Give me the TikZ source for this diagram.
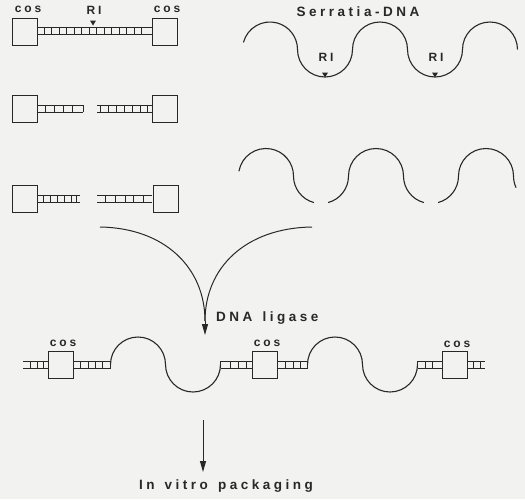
\documentclass[tikz,border=0pt]{standalone}
\usepackage{fontspec}
\setmainfont{Liberation Sans}
\newfontfamily\labfont[LetterSpace=24]{Liberation Sans Bold}
\newfontfamily\biglabfont[LetterSpace=26,WordSpace=1.4]{Liberation Sans Bold}
\usetikzlibrary{arrows.meta}
\definecolor{bg}{RGB}{242,242,240}
\definecolor{ink}{RGB}{40,40,40}
\newcommand\dnaladder[4]{%
  \draw[ink,line width=0.9pt] (#1,#3-3.5) -- (#2,#3-3.5) (#1,#3+3.5) -- (#2,#3+3.5);
  \foreach \r in {#4} \draw[ink,line width=0.9pt] (\r,#3-3.5) -- (\r,#3+3.5);}
\tikzset{
  cosbox/.style={draw=ink,line width=1pt,fill=bg,minimum width=25pt,minimum height=27pt,inner sep=0pt},
  lab/.style={text=ink,font=\labfont\fontsize{12}{12}\selectfont,inner sep=0pt},
  biglab/.style={text=ink,font=\biglabfont\fontsize{13.5}{13.5}\selectfont,inner sep=0pt},
  wave/.style={draw=ink,line width=1.1pt},
  ln/.style={draw=ink,line width=1pt},
  arr/.style={ln,-{Triangle[length=11pt,width=6pt]}}
}
\begin{document}
\begin{tikzpicture}[x=1pt,y=-1pt]
\fill[bg] (0,0) rectangle (525,499);
\useasboundingbox (0,0) rectangle (525,499);

% ---- row 1: intact vector
\node[cosbox] (a1) at (24.5,32) {};
\node[cosbox] (a2) at (164.5,32) {};
\dnaladder{37}{152}{31}{44,51.5,...,148}
\node[lab] (ca1) at (28,9) {cos};
\node[lab] (ca2) at (167,9) {cos};
\node[lab] (ri0) at (94,10) {RI};
\fill[ink] (93,25.5) -- ++(-3,-5) -- ++(6,0) -- cycle;

% ---- row 2: cut vector
\node[cosbox] (b1) at (25,108.5) {};
\node[cosbox] (b2) at (164.5,108.5) {};
\dnaladder{37.5}{83}{108.5}{45,54,63,72,83}
\dnaladder{97}{152}{108.5}{100,108,116,124,132,140,147}

% ---- row 3: vector arms
\node[cosbox] (c1) at (25,198.5) {};
\node[cosbox] (c2) at (165.5,198.5) {};
\dnaladder{37.5}{80}{198.5}{43,50,57,64,71,76}
\dnaladder{97}{152}{198.5}{105,115,125,133,143}

% ---- Serratia DNA
\node[biglab] (ser) at (358,12) {Serratia-DNA};
\draw[wave] (270,49.5) ++(195:27.5)
  arc[start angle=195,end angle=360,radius=27.5]
  arc[start angle=180,end angle=0,radius=27.5]
  arc[start angle=180,end angle=360,radius=27.5]
  arc[start angle=180,end angle=0,radius=27.5]
  arc[start angle=180,end angle=360,radius=27.5];
\node[lab] (ri1) at (326,57) {RI};
\node[lab] (ri2) at (436,57) {RI};
\fill[ink] (325,77.5) -- ++(-3,-5) -- ++(6,0) -- cycle;
\fill[ink] (435,77.5) -- ++(-3,-5) -- ++(6,0) -- cycle;

% ---- Serratia fragments
\draw[wave] (266,176) ++(190:27.5)
  arc[start angle=190,end angle=360,radius=27.5]
  arc[start angle=180,end angle=105,radius=27.5];
\draw[wave] (321,176) ++(75:27.5)
  arc[start angle=75,end angle=0,radius=27.5]
  arc[start angle=180,end angle=360,radius=27.5]
  arc[start angle=180,end angle=105,radius=27.5];
\draw[wave] (431,176) ++(75:27.5)
  arc[start angle=75,end angle=0,radius=27.5]
  arc[start angle=180,end angle=360,radius=27.5]
  arc[start angle=180,end angle=155,radius=27.5];

% ---- converging arrows
\coordinate (L) at (100,227);
\coordinate (R) at (312,227);
\coordinate (J) at (205,321);
\coordinate (T) at (205,335);
\draw[ln] (L) .. controls (165,228) and (205,268) .. (J);
\draw[ln] (R) .. controls (245,228) and (205,268) .. (J);
\draw[arr] (J) -- (T);
\node[biglab,anchor=west] (lig) at (216,318) {DNA ligase};

% ---- recombinant concatemer
\node[cosbox] (d1) at (60.5,364.5) {};
\node[cosbox] (d2) at (265,364.5) {};
\node[cosbox] (d3) at (454.5,364.5) {};
\node[lab] (cd1) at (63,343) {cos};
\node[lab] (cd2) at (267,343) {cos};
\node[lab] (cd3) at (457,344) {cos};
\dnaladder{23}{48}{364.5}{30,37,43}
\dnaladder{73}{110.5}{364.5}{80,88,95,102,110.5}
\draw[wave] (110.5,364.5)
  arc[start angle=180,end angle=360,radius=27.5]
  arc[start angle=180,end angle=0,radius=27.5];
\dnaladder{220.5}{252.5}{364.5}{220.5,230,238,246}
\dnaladder{277.5}{307.5}{364.5}{285,293,300,307.5}
\draw[wave] (307.5,364.5)
  arc[start angle=180,end angle=360,radius=27.5]
  arc[start angle=180,end angle=0,radius=27.5];
\dnaladder{417.5}{442}{364.5}{417.5,425,432}
\dnaladder{467}{485}{364.5}{473,480}

% ---- packaging
\coordinate (P1) at (203,420);
\coordinate (P2) at (203,472);
\draw[arr] (P1) -- (P2);
\node[biglab] (pack) at (226,486) {In vitro packaging};
\end{tikzpicture}
\end{document}
